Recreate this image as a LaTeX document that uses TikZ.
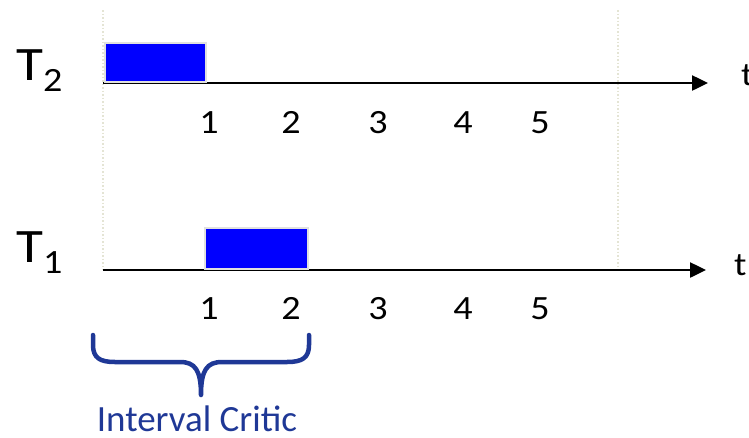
\documentclass[tikz,border=0pt]{standalone}
\usepackage{fontspec}
\usepackage{graphicx}
\setmainfont{Carlito}
\usetikzlibrary{positioning,arrows.meta}
\definecolor{jobblue}{RGB}{0,0,255}
\definecolor{bracecol}{RGB}{31,56,150}
\definecolor{gridcol}{RGB}{228,228,212}
\newcommand{\wide}[2][1.12]{\scalebox{#1}[1]{#2}}

\begin{document}
\begin{tikzpicture}[x=1pt,y=-1pt,
    every node/.style={inner sep=0pt},
    job/.style={draw=black!12, line width=1.5pt, fill=jobblue},
    axis/.style={line width=2.5pt, -{Triangle[length=16pt,width=15pt]}},
    guide/.style={gridcol, line width=1.5pt, dotted},
    tick/.style={anchor=base, font=\fontsize{34}{34}\selectfont},
    task/.style={anchor=base west, font=\fontsize{48}{48}\selectfont}]
  \useasboundingbox (0,0) rectangle (749,437);

  % dotted guides at the start and the end of the time scale
  \draw[guide] (103,10) -- (103,270);
  \draw[guide] (618,10) -- (618,270);

  % time axes
  \coordinate (o2) at (103,83);
  \coordinate (e2) at (708,83);
  \coordinate (o1) at (103,270);
  \coordinate (e1) at (706,270);
  \draw[axis] (o2) -- (e2);
  \draw[axis] (o1) -- (e1);
  \node[anchor=base west, font=\fontsize{33}{33}\selectfont] (t2) at (741,85) {\wide{t}};
  \node[anchor=base west, font=\fontsize{33}{33}\selectfont] (t1) at (734,275) {\wide{t}};

  % task names
  \node[task] (T2) at (16,80) {\wide[1.15]{T}\raisebox{-11pt}{\fontsize{34}{34}\selectfont\wide{2}}};
  \node[task] (T1) at (16,262) {\wide[1.15]{T}\raisebox{-11pt}{\fontsize{34}{34}\selectfont\wide{1}}};

  % running intervals
  \node[job, minimum width=101pt, minimum height=39pt] (job2) at (155.5,62.5) {};
  \node[job, minimum width=103pt, minimum height=41pt] (job1) at (256.5,248.5) {};

  % tick labels
  \foreach \k/\x in {1/209,2/291,3/378,4/463,5/540} {
    \node[tick] (a2-\k) at (\x,133) {\wide{\k}};
    \node[tick] (a1-\k) at (\x,319) {\wide{\k}};
  }

  % brace under the first two units
  \draw[bracecol, line width=4.5pt, line cap=round, line join=round]
    (93,335) -- (93,345) .. controls (93,358) and (100,362) .. (115,362)
    -- (180,362) .. controls (195,362) and (201,370) .. (201,395)
    .. controls (201,370) and (207,362) .. (222,362)
    -- (287,362) .. controls (302,362) and (309,358) .. (309,345) -- (309,335);
  \node[anchor=base, text=bracecol, font=\fontsize{37}{37}\selectfont] (crit) at (197,431) {Interval Critic};
\end{tikzpicture}
\end{document}
